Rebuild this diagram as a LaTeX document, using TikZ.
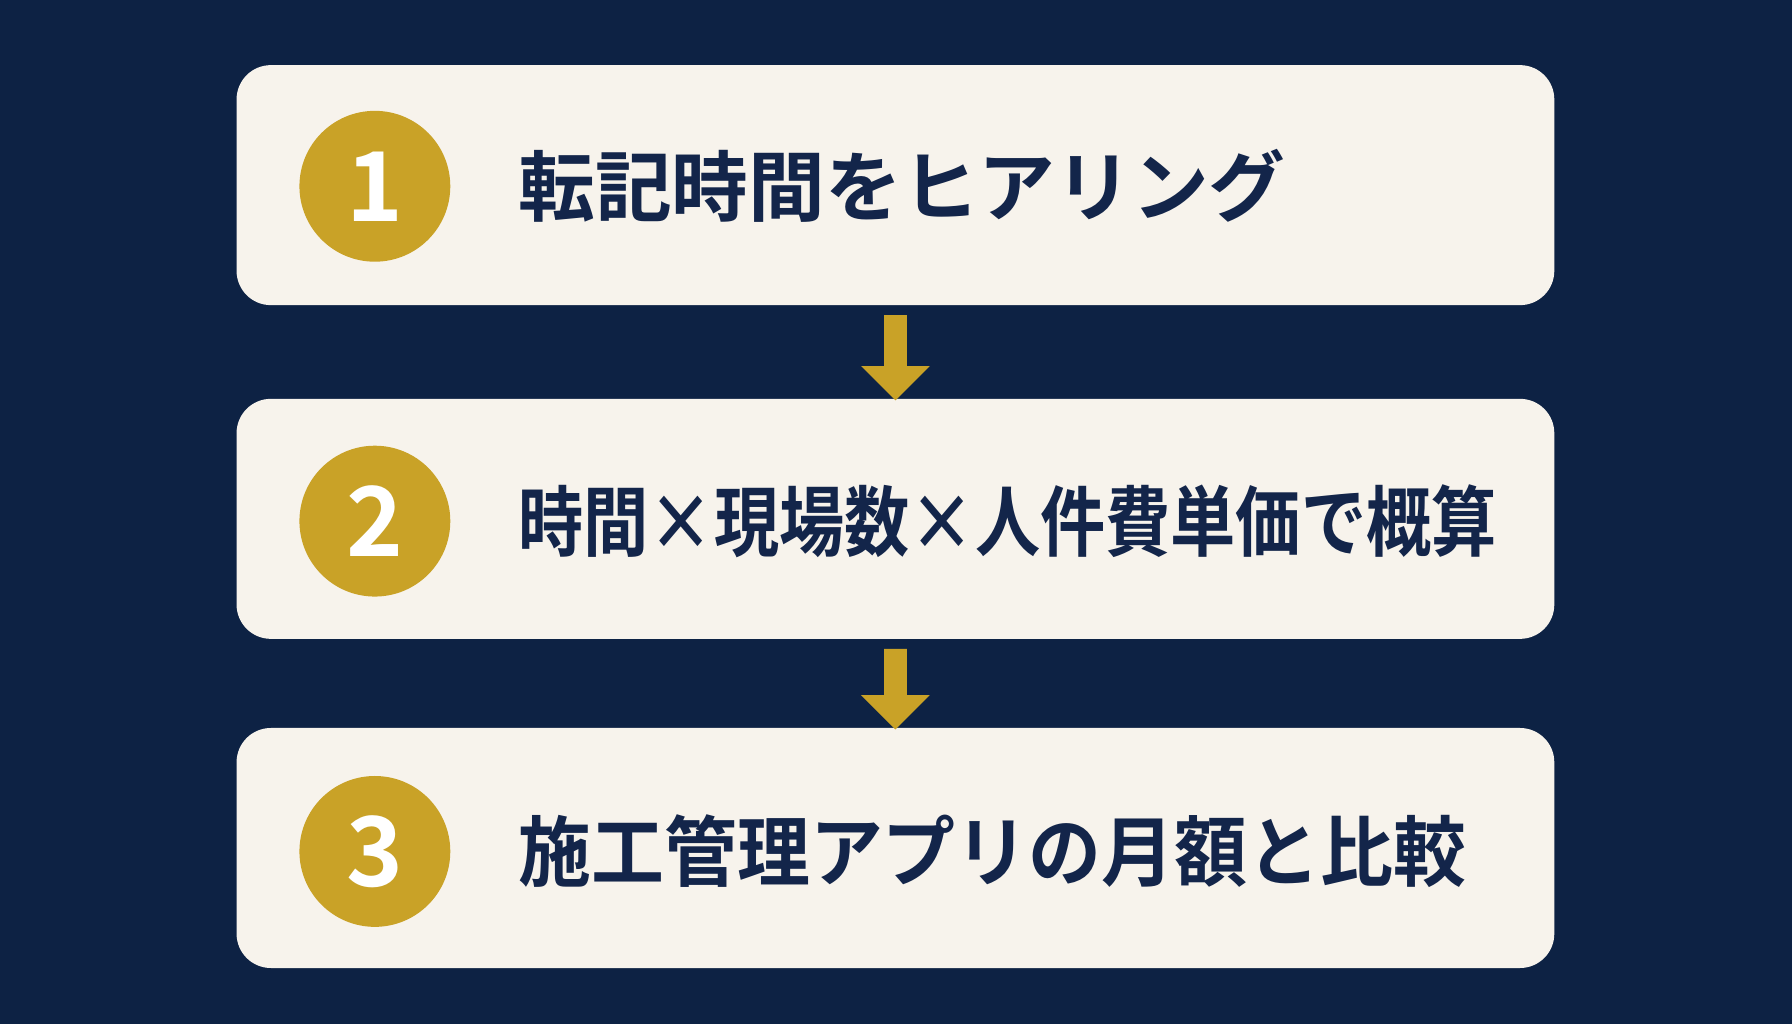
\documentclass[tikz,border=0pt]{standalone}
\usepackage{fontspec}
\setmainfont{Noto Sans CJK JP}[BoldFont={Noto Sans CJK JP Bold}]
\usetikzlibrary{positioning, calc}
\definecolor{navybg}{HTML}{0D2244}
\definecolor{cardbg}{HTML}{F7F3EC}
\definecolor{gold}{HTML}{C9A227}
\definecolor{inktext}{HTML}{13254A}
\tikzstyle{card} = [rectangle, rounded corners=0.3cm, minimum width=11.53cm, minimum height=2.1cm, fill=cardbg, inner sep=0pt]
\tikzstyle{badge} = [circle, fill=gold, minimum size=1.32cm, inner sep=0pt, text=white, font=\bfseries\fontsize{24}{24}\selectfont]
\tikzstyle{label} = [anchor=west, text=inktext, font=\bfseries\fontsize{19.1}{20}\selectfont, inner sep=0pt]
\tikzstyle{downarrow} = [fill=gold]

\begin{document}
\begin{tikzpicture}
    \fill[navybg] (0,0) rectangle (15.68,-8.96);
    \useasboundingbox (0,0) rectangle (15.68,-8.96);
    % Cards
    \node[card] (step1) at (7.835,-1.62) {};
    \node[card] (step2) at (7.835,-4.54) {};
    \node[card] (step3) at (7.835,-7.42) {};
    % Badges
    \node[badge] (num1) at (3.28,-1.63) {1};
    \node[badge] (num2) at (3.28,-4.56) {2};
    \node[badge] (num3) at (3.28,-7.45) {3};
    % Texts
    \node[label] (text1) at (4.53,-1.63) {転記時間をヒアリング};
    \node[label] (text2) at (4.53,-4.56) {\scalebox{0.85}[1]{時間×現場数×人件費単価で概算}};
    \node[label] (text3) at (4.53,-7.45) {\scalebox{0.95}[1]{施工管理アプリの月額と比較}};
    % Arrows
    \foreach \a/\b in {step1/step2, step2/step3} {
        \path (\a.south) ++(0,-0.08) coordinate (top);
        \path (\b.north) ++(0,-0.02) coordinate (tip);
        \fill[downarrow] ($(top)+(-0.1,0)$) -- ($(top)+(0.1,0)$) -- ($(tip)+(0.1,0.3)$)
            -- ($(tip)+(0.3,0.3)$) -- (tip) -- ($(tip)+(-0.3,0.3)$) -- ($(tip)+(-0.1,0.3)$) -- cycle;
    }
\end{tikzpicture}
\end{document}
